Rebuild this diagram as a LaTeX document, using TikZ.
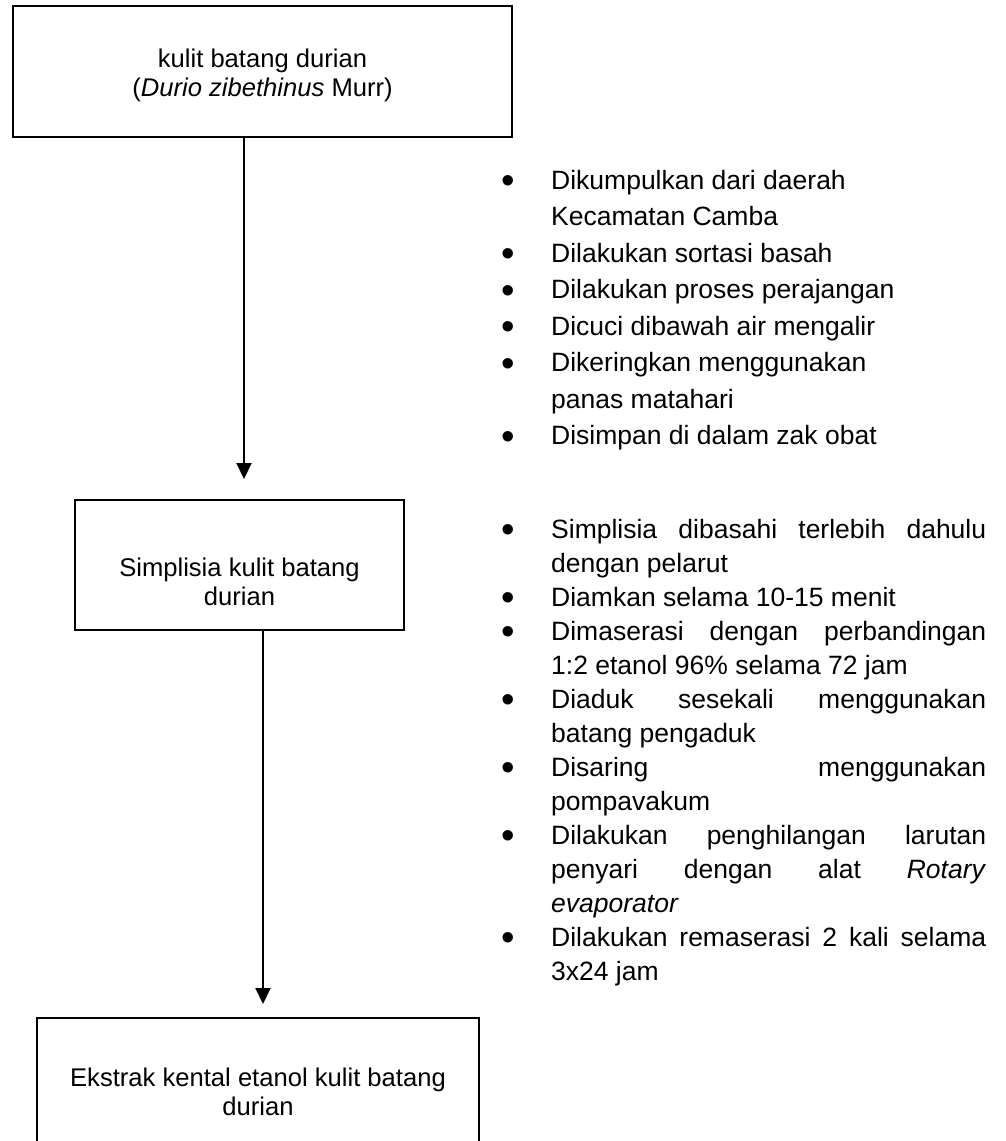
\documentclass[tikz,border=0pt]{standalone}
\usepackage{fontspec}
\usepackage{graphicx}
\setmainfont{Liberation Sans}
\usetikzlibrary{arrows.meta}
\newcommand\bulletmark{\hspace*{-3.3pt}\raisebox{-4.6pt}{\scalebox{1.45}{\textbullet}}}
\newcommand\bitem[1]{\par\noindent\hangindent=46.6pt\hangafter=1\makebox[46.6pt][l]{\bulletmark}#1}
\newcommand\boxfont{\fontsize{25.6}{29.5}\selectfont}
\begin{document}
\begin{tikzpicture}[x=1pt,y=-1pt,
  boxstyle/.style={draw, line width=2pt, inner sep=0pt, anchor=north west},
  arr/.style={line width=2pt, -{Triangle[width=15pt,length=16pt]}},
  listnode/.style={inner sep=0pt, anchor=base west}]
\useasboundingbox[fill=white] (0,0) rectangle (1005,1141);
\node[boxstyle, text height=61pt, text depth=70pt] (b1) at (12,5)
  {\parbox[t]{499pt}{\boxfont\centering kulit batang durian\\(\textit{Durio zibethinus} Murr)}};
\node[boxstyle, text height=76pt, text depth=54pt] (b2) at (74,499)
  {\parbox[t]{329pt}{\boxfont\centering Simplisia kulit batang\\durian}};
\node[boxstyle, text height=68pt, text depth=80pt] (b3) at (36,1017)
  {\parbox[t]{442pt}{\boxfont\centering Ekstrak kental etanol kulit batang\\durian}};
\coordinate (t1) at (244,479);
\coordinate (t2) at (263,1004);
\draw[arr] (b1.south -| t1) -- (t1);
\draw[arr] (b2.south -| t2) -- (t2);
\node[listnode] (l1) at (504.4,189) {\parbox[t]{481.6pt}{\fontsize{26.5}{36.57}\selectfont\hyphenpenalty=10000\exhyphenpenalty=10000
\bitem{Dikumpulkan dari daerah\newline Kecamatan Camba}
\bitem{Dilakukan sortasi basah}
\bitem{Dilakukan proses perajangan}
\bitem{Dicuci dibawah air mengalir}
\bitem{Dikeringkan menggunakan\newline panas matahari}
\bitem{Disimpan di dalam zak obat}\par}};
\node[listnode] (l2) at (504.4,538) {\parbox[t]{481.6pt}{\fontsize{26.5}{34}\selectfont\hyphenpenalty=10000\exhyphenpenalty=10000\tolerance=10000
\bitem{Simplisia dibasahi terlebih dahulu\linebreak dengan pelarut}
\bitem{Diamkan selama 10-15 menit}
\bitem{Dimaserasi dengan perbandingan\linebreak 1:2 etanol 96\% selama 72 jam}
\bitem{Diaduk sesekali menggunakan\linebreak batang pengaduk}
\bitem{Disaring menggunakan\linebreak pompavakum}
\bitem{Dilakukan penghilangan larutan\linebreak penyari dengan alat \textit{Rotary}\linebreak \textit{evaporator}}
\bitem{Dilakukan remaserasi 2 kali selama\linebreak 3x24 jam}\par}};
\end{tikzpicture}
\end{document}
